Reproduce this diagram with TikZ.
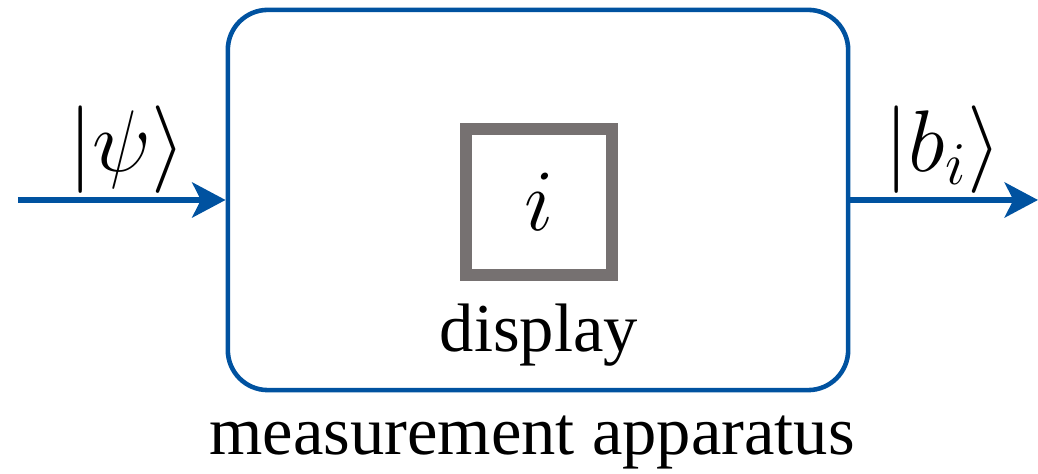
\documentclass[tikz,border=0pt]{standalone}
\usepackage{fontspec}
\setmainfont{Liberation Serif}
\usetikzlibrary{arrows.meta,positioning}
\definecolor{appblue}{RGB}{0,82,160}
\definecolor{dispgray}{RGB}{118,113,113}
\begin{document}
\begin{tikzpicture}[x=0.01cm,y=-0.01cm,
  every node/.style={font=\fontsize{19.5}{23}\selectfont},
  ket/.style={font=\fontsize{24}{28}\selectfont},
  wire/.style={appblue,line width=1.5pt,-{Stealth[length=9.5pt,width=10pt,inset=2.5pt]}}]
\useasboundingbox (0,0) rectangle (1038,474);
\node[draw=appblue,line width=1.3pt,rounded corners=0.4cm,minimum width=6.2cm,minimum height=3.8cm](apparatus) at (538,200){};
\node[draw=dispgray,line width=3.4pt,minimum size=1.46cm,inner sep=0pt,ket](disp) at (539,202){$i$};
\node[below=0.22cm of disp,inner sep=0pt](displabel){display};
\node(applabel) at (532,443){measurement apparatus};
\coordinate(in) at (18,200);
\coordinate(out) at (1038,200);
\draw[wire](in)--(apparatus.west);
\draw[wire](apparatus.east)--(out);
\node[ket](psi) at (127,150){$|\psi\rangle$};
\node[ket](bi) at (943,150){$|b_i\rangle$};
\end{tikzpicture}
\end{document}
